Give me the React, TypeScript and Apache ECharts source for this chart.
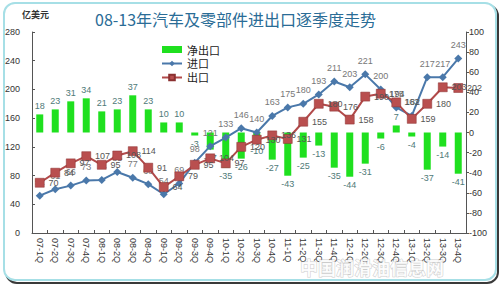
import React, { useEffect, useRef } from "react";
import * as echarts from "echarts";

const categories = [
  "07-1Q", "07-2Q", "07-3Q", "07-4Q",
  "08-1Q", "08-2Q", "08-3Q", "08-4Q",
  "09-1Q", "09-2Q", "09-3Q", "09-4Q",
  "10-1Q", "10-2Q", "10-3Q", "10-4Q",
  "11-1Q", "11-2Q", "11-3Q", "11-4Q",
  "12-1Q", "12-2Q", "12-3Q", "12-4Q",
  "13-1Q", "13-2Q", "13-3Q", "13-4Q",
];
const importValues = [52, 61, 66, 73, 74, 85, 77, 68, 54, 69, 98, 121, 133, 146, 140, 163, 175, 180, 193, 211, 203, 221, 200, 175, 163, 217, 217, 243];
const exportValues = [70, 84, 97, 107, 95, 108, 114, 91, 64, 79, 95, 104, 97, 120, 130, 136, 131, 155, 180, 176, 158, 190, 194, 182, 159, 180, 203, 202];
const netValues = [18, 23, 31, 34, 21, 23, 37, 23, 10, 10, -3, -17, -35, -26, -10, -27, -43, -25, -13, -35, -44, -31, -6, 7, -4, -37, -14, -41];
const leftTicks = { min: 0, max: 280, interval: 40 };
const rightTicks = { min: -100, max: 100, interval: 20 };

const FONT = "'Liberation Sans', 'DejaVu Sans', sans-serif";
const CJK = "'Noto Sans CJK SC', sans-serif";

export default function App() {
  const ref = useRef<HTMLDivElement>(null);
  useEffect(() => {
    if (!ref.current) return;
    const chart = echarts.init(ref.current, undefined, { renderer: "svg" });
    const netData = netValues.map((v) => ({
      value: v,
      label: { position: v >= 0 ? "top" : "bottom" },
    }));
    chart.setOption({
      animation: false,
      backgroundColor: "#ffffff",
      graphic: [
        {
          type: "rect",
          shape: { x: 6, y: 5, width: 492, height: 278, r: 11 },
          style: { fill: "none", stroke: "#3a3a3a", lineWidth: 2 },
          z: -10,
          silent: true,
        },
        {
          type: "rect",
          shape: { x: 4, y: 3, width: 492, height: 277, r: 11 },
          style: { fill: "#ffffff", stroke: "#a6dfe6", lineWidth: 2 },
          z: -9,
          silent: true,
        },
        {
          type: "text",
          x: 22,
          y: 10,
          style: { text: "亿美元", font: `bold 9px ${CJK}`, fill: "#333" },
          silent: true,
        },
        {
          type: "text",
          x: 300,
          y: 258,
          style: {
            text: "中国润滑油信息网",
            font: `bold 18px ${CJK}`,
            fill: "rgba(255,255,255,0.85)",
            stroke: "rgba(170,170,170,0.6)",
            lineWidth: 1,
          },
          z: 50,
          silent: true,
        },
      ],
      title: {
        text: "08-13年汽车及零部件进出口逐季度走势",
        left: 90,
        top: 6,
        textStyle: { fontFamily: CJK, fontSize: 16, fontWeight: "normal", color: "#2a6c96" },
      },
      legend: {
        orient: "vertical",
        left: 156,
        top: 39,
        itemGap: 3,
        itemWidth: 20,
        itemHeight: 7,
        textStyle: { fontFamily: CJK, fontSize: 11, color: "#222" },
        data: [
          { name: "净出口", icon: "rect" },
          { name: "进口" },
          { name: "出口" },
        ],
      },
      grid: { left: 32, right: 34, top: 32, bottom: 52 },
      xAxis: {
        type: "category",
        data: categories,
        boundaryGap: true,
        axisLine: { lineStyle: { color: "#555", width: 1 } },
        axisTick: { show: true, inside: true, length: 3, lineStyle: { color: "#555" } },
        axisLabel: {
          interval: 0,
          rotate: -90,
          fontFamily: FONT,
          fontSize: 9,
          color: "#333",
          margin: 5,
        },
      },
      yAxis: [
        {
          type: "value",
          ...leftTicks,
          position: "left",
          splitLine: { show: false },
          axisLine: { show: true, lineStyle: { color: "#555" } },
          axisTick: { show: true, inside: true, length: 3, lineStyle: { color: "#555" } },
          axisLabel: { fontFamily: FONT, fontSize: 9, color: "#333", margin: 12 },
        },
        {
          type: "value",
          ...rightTicks,
          position: "right",
          splitLine: { show: false },
          axisLine: { show: true, lineStyle: { color: "#555" } },
          axisTick: { show: true, length: 3, lineStyle: { color: "#555" } },
          axisLabel: { fontFamily: FONT, fontSize: 9, color: "#333", margin: 3 },
        },
      ],
      series: [
        {
          name: "净出口",
          type: "bar",
          yAxisIndex: 1,
          data: netData,
          barWidth: 7,
          itemStyle: { color: "#1fe01f" },
          label: { show: true, fontFamily: FONT, fontSize: 9, color: "#4f7a78", distance: 4 },
          z: 1,
        },
        {
          name: "进口",
          type: "line",
          yAxisIndex: 0,
          data: importValues,
          symbol: "diamond",
          symbolSize: 8,
          lineStyle: { color: "#4a78aa", width: 2 },
          itemStyle: { color: "#4a78aa" },
          label: { show: true, position: "top", fontFamily: FONT, fontSize: 9, color: "#777", distance: 5 },
          labelLayout: { moveOverlap: "shiftY" },
          z: 3,
        },
        {
          name: "出口",
          type: "line",
          yAxisIndex: 0,
          data: exportValues,
          symbol: "rect",
          symbolSize: 9,
          lineStyle: { color: "#b24a4a", width: 2 },
          itemStyle: { color: "#b94f4f", borderColor: "#8a3030", borderWidth: 0.5 },
          label: { show: true, position: "right", offset: [0, 3], fontFamily: FONT, fontSize: 9, color: "#555", distance: 4 },
          labelLayout: { moveOverlap: "shiftY" },
          z: 4,
        },
      ],
    });
    return () => chart.dispose();
  }, []);
  return (
    <div
      ref={ref}
      style={{ position: "fixed", left: 0, top: 0, width: 500, height: 285 }}
    />
  );
}
